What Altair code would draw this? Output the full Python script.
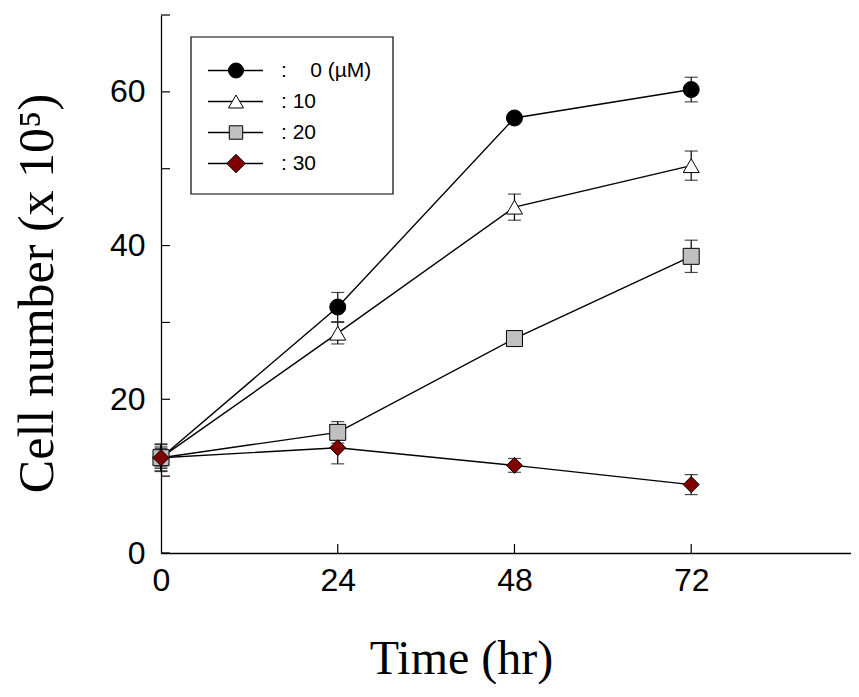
import altair as alt
import pandas as pd

# ---- data ----
times = [0, 24, 48, 72]
concs = ["0", "10", "20", "30"]
legend_labels = [":\u00a0\u00a0\u00a0\u00a00 (\u00b5M)", ": 10", ": 20", ": 30"]

mean_0 = [12.4, 32.0, 56.6, 60.3]
err_0 = [1.7, 1.9, 0.4, 1.6]
mean_10 = [12.4, 28.6, 45.0, 50.4]
err_10 = [1.4, 1.4, 1.7, 1.9]
mean_20 = [12.4, 15.7, 27.9, 38.6]
err_20 = [1.2, 1.4, 0.4, 2.1]
mean_30 = [12.4, 13.7, 11.4, 8.9]
err_30 = [1.8, 2.1, 0.9, 1.3]

y_tick_values = [0, 10, 20, 30, 40, 50, 60, 70]
x_tick_values = [0, 24, 48, 72]

# ---- styles ----
shapes = ["circle", "triangle-up", "square", "diamond"]
fills = ["#000000", "#ffffff", "#c0c0c0", "#800000"]
sizes = [256, 256, 196, 380]
legend_sizes = [225, 225, 180, 340]

means = [mean_0, mean_10, mean_20, mean_30]
errs = [err_0, err_10, err_20, err_30]
rows = []
for c, m, e in zip(concs, means, errs):
    for t, mv, ev in zip(times, m, e):
        rows.append(dict(time=t, conc=c, mean=mv, lo=mv - ev, hi=mv + ev))
df = pd.DataFrame(rows)

W, H = 690, 538
xs = alt.Scale(domain=[0, 93.7], nice=False, zero=False)
ys = alt.Scale(domain=[0, 70], nice=False)

x_axis = alt.Axis(
    values=x_tick_values, ticks=False, tickSize=0, grid=False,
    labelFontSize=32, labelFont="Liberation Sans", labelColor="black",
    labelPadding=12, labelFlush=False,
    domainColor="black", domainWidth=1.3,
    title="Time (hr)", titleFont="Liberation Serif", titleFontSize=48,
    titleFontWeight="normal", titleColor="black",
    titleX=300, titleY=120, titleBaseline="alphabetic", titleAlign="center",
)
y_axis = alt.Axis(
    values=y_tick_values, ticks=False, tickSize=0, grid=False,
    labelExpr="datum.value % 20 == 0 ? datum.label : ''",
    labelFontSize=32, labelFont="Liberation Sans", labelColor="black",
    labelPadding=16, labelBaseline="middle",
    domainColor="black", domainWidth=1.3,
    title="Cell number (x 10\u2075)", titleFont="Liberation Serif",
    titleFontSize=50, titleFontWeight="normal", titleColor="black",
    titleAngle=-90, titleX=-124, titleY=278, titleAlign="center",
    titleBaseline="middle",
)


def X(f):
    return alt.X(f, scale=xs, axis=x_axis)


def Y(f):
    return alt.Y(f, scale=ys, axis=y_axis)


base = alt.Chart(df)

lines = base.mark_line(color="black", strokeWidth=1.4).encode(
    x=X("time:Q"), y=Y("mean:Q"), detail="conc:N",
)

err_rules = base.mark_rule(color="black", strokeWidth=1.2).encode(
    x=X("time:Q"), y=Y("lo:Q"), y2="hi:Q",
)
cap_lo = base.mark_tick(color="black", orient="horizontal", size=13, thickness=1.2).encode(
    x=X("time:Q"), y=Y("lo:Q"),
)
cap_hi = base.mark_tick(color="black", orient="horizontal", size=13, thickness=1.2).encode(
    x=X("time:Q"), y=Y("hi:Q"),
)

points = base.mark_point(filled=True, stroke="black", strokeWidth=1, opacity=1, fillOpacity=1).encode(
    x=X("time:Q"), y=Y("mean:Q"),
    shape=alt.Shape("conc:N", scale=alt.Scale(domain=concs, range=shapes), legend=None),
    fill=alt.Fill("conc:N", scale=alt.Scale(domain=concs, range=fills), legend=None),
    size=alt.Size("conc:N", scale=alt.Scale(domain=concs, range=sizes), legend=None),
)

ytick_df = pd.DataFrame({"v": y_tick_values})
yticks = alt.Chart(ytick_df).mark_rule(color="black", strokeWidth=1.2).encode(
    y=Y("v:Q"), x=alt.value(0), x2=alt.value(9),
)
xtick_df = pd.DataFrame({"v": x_tick_values[1:]})
xticks = alt.Chart(xtick_df).mark_rule(color="black", strokeWidth=1.2).encode(
    x=X("v:Q"), y=alt.value(H), y2=alt.value(H - 9),
)

# ---- legend box ----
one = pd.DataFrame({"a": [0]})
legend_layers = [
    alt.Chart(one).mark_rect(fill="white", stroke="black", strokeWidth=1.2).encode(
        x=alt.value(30), x2=alt.value(232), y=alt.value(22), y2=alt.value(179)
    )
]
for i, lab in enumerate(legend_labels):
    ry = 55.5 + 31 * i
    legend_layers.append(
        alt.Chart(one).mark_rule(color="black", strokeWidth=1.4).encode(
            x=alt.value(47), x2=alt.value(102), y=alt.value(ry)
        )
    )
    legend_layers.append(
        alt.Chart(one).mark_point(
            shape=shapes[i], filled=True, fill=fills[i], stroke="black",
            strokeWidth=1, size=legend_sizes[i], opacity=1, fillOpacity=1,
        ).encode(x=alt.value(75), y=alt.value(ry))
    )
    legend_layers.append(
        alt.Chart(pd.DataFrame({"label": [lab]})).mark_text(
            align="left", baseline="middle", fontSize=21,
            font="Liberation Sans", color="black",
        ).encode(x=alt.value(120), y=alt.value(ry), text="label:N")
    )

chart = alt.layer(
    lines, err_rules, cap_lo, cap_hi, points, yticks, xticks, *legend_layers
).properties(
    width=W, height=H,
    autosize=alt.AutoSizeParams(type="none"),
    padding={"left": 153, "top": 7, "right": 0, "bottom": 131},
).configure_view(stroke=None)

chart.save("out.html", embed_options={"renderer": "svg", "actions": False})
